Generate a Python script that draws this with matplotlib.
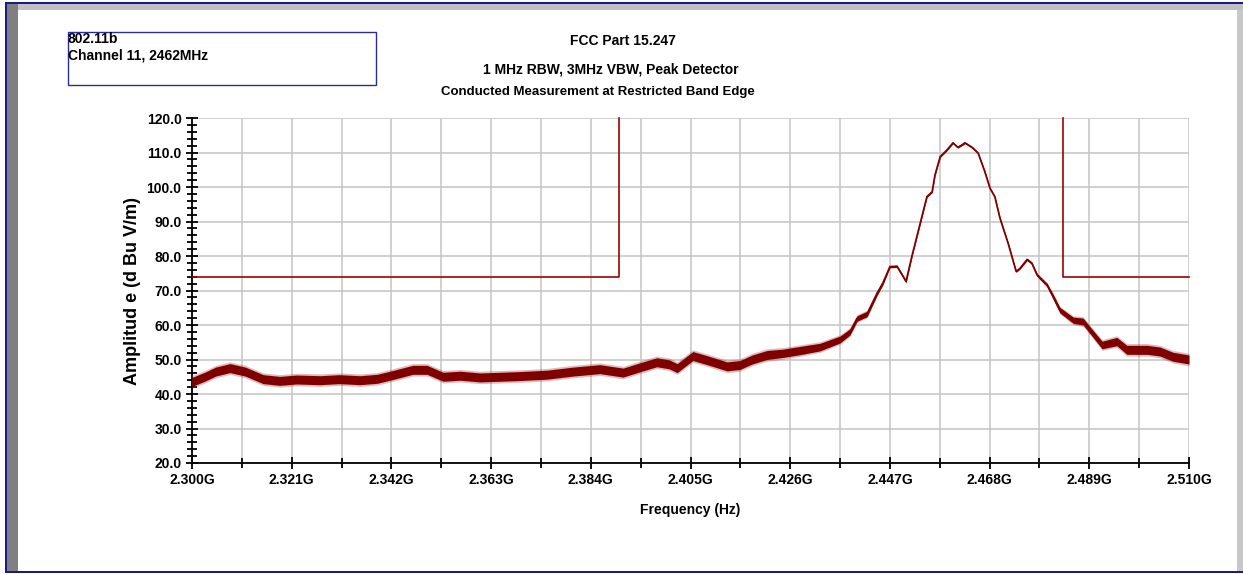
import numpy as np
import matplotlib.pyplot as plt
from matplotlib.patches import Rectangle
from matplotlib.ticker import MultipleLocator

plt.rcParams['font.family'] = ['Liberation Sans', 'DejaVu Sans']

freq_mhz = [2300.0, 2302.7, 2305.0, 2308.0, 2311.2, 2315.0, 2318.5, 2322.0, 2327.0, 2331.0,
            2335.4, 2339.0, 2342.3, 2346.5, 2349.5, 2352.9, 2356.5, 2360.7, 2365.0, 2369.1,
            2374.8, 2380.3, 2385.9, 2390.8, 2394.5, 2397.9, 2400.5, 2402.2, 2405.5, 2408.5,
            2412.7, 2415.4, 2418.0, 2421.1, 2424.5, 2428.1, 2432.3, 2436.5, 2438.6, 2440.1,
            2442.2, 2444.3, 2445.5, 2447.0, 2448.5, 2449.6, 2450.4, 2451.7, 2453.3, 2454.8,
            2455.9, 2456.5, 2457.6, 2459.0, 2460.3, 2461.3, 2462.2, 2462.8, 2464.3, 2465.6,
            2467.0, 2468.1, 2469.1, 2470.2, 2471.9, 2473.6, 2474.4, 2475.9, 2476.9, 2478.0,
            2480.1, 2481.4, 2482.8, 2485.6, 2487.7, 2489.1, 2491.7, 2494.8, 2496.9, 2501.2,
            2503.9, 2506.6, 2510.0]
level_db = [43.5, 45.0, 46.5, 47.5, 46.5, 44.3, 43.8, 44.2, 44.0, 44.3,
            44.0, 44.4, 45.5, 47.0, 47.0, 45.0, 45.3, 44.8, 45.0, 45.2,
            45.6, 46.5, 47.2, 46.2, 47.8, 49.2, 48.6, 47.5, 51.0, 49.8,
            48.0, 48.4, 50.0, 51.3, 51.8, 52.6, 53.6, 55.8, 58.0, 61.9,
            63.2, 69.2, 72.1, 76.9, 77.0, 74.5, 72.6, 80.3, 89.0, 97.2,
            98.6, 103.5, 108.8, 110.7, 112.8, 111.5, 112.2, 112.8, 111.5, 109.8,
            104.4, 99.6, 97.2, 90.9, 83.7, 75.5, 76.4, 79.0, 77.9, 74.5,
            71.6, 68.2, 64.3, 61.4, 61.0, 58.6, 54.2, 55.2, 52.8, 52.8,
            52.3, 50.8, 50.0]
spread_db = [1.3, 1.3, 1.3, 1.3, 1.3, 1.3, 1.3, 1.3, 1.3, 1.3,
             1.3, 1.3, 1.3, 1.3, 1.3, 1.3, 1.3, 1.3, 1.3, 1.3,
             1.3, 1.3, 1.3, 1.3, 1.3, 1.3, 1.3, 1.3, 1.3, 1.3,
             1.3, 1.3, 1.3, 1.3, 1.2, 1.2, 1.1, 1.0, 0.9, 0.8,
             0.8, 0.6, 0.5, 0.3, 0.3, 0.3, 0.3, 0.2, 0.2, 0.2,
             0.2, 0.2, 0.2, 0.2, 0.2, 0.2, 0.2, 0.2, 0.2, 0.2,
             0.2, 0.2, 0.2, 0.2, 0.2, 0.2, 0.2, 0.3, 0.3, 0.4,
             0.5, 0.7, 0.8, 0.9, 1.0, 1.0, 1.1, 1.2, 1.3, 1.3,
             1.3, 1.3, 1.3]

# Restricted band limit: 74 dBuV/m outside 2390 - 2483.5 MHz
limit_freq = [2300.0, 2390.0, 2390.0]
limit_level = [74.0, 74.0, 120.0]
limit2_freq = [2483.5, 2483.5, 2510.0]
limit2_level = [120.0, 74.0, 74.0]

x_ticks = [2300, 2321, 2342, 2363, 2384, 2405, 2426, 2447, 2468, 2489, 2510]
x_minor = [2310.5, 2331.5, 2352.5, 2373.5, 2394.5, 2415.5, 2436.5, 2457.5, 2478.5, 2499.5]

fig = plt.figure(figsize=(12.43, 5.74), dpi=100)

# window frame
W, H = 1243, 574
def px(x, y, w, h, **kw):
    fig.patches.append(Rectangle((x / W, 1 - (y + h) / H), w / W, h / H,
                                 transform=fig.transFigure, **kw))
px(7, 4, 1236, 6, facecolor='#c0c0c0', edgecolor='none')
px(7, 4, 11, 568, facecolor='#808080', edgecolor='none')
px(1237, 10, 6, 562, facecolor='#c8c8c8', edgecolor='none')
px(5, 2, 1238, 2, facecolor='#1a1a8c', edgecolor='none')
px(5, 2, 2, 570, facecolor='#1a1a8c', edgecolor='none')
px(5, 571, 1238, 2, facecolor='#1a1a8c', edgecolor='none')

# info box top left
px(68, 32, 308, 53, facecolor='none', edgecolor='#2b2b9a', linewidth=1.0)
fig.text(68 / W, 1 - 32 / H, '802.11b\nChannel 11, 2462MHz', ha='left', va='top',
         fontsize=10, fontweight='bold', linespacing=1.2)

fig.text(623 / W, 1 - 41 / H, 'FCC Part 15.247', ha='center', va='center',
         fontsize=10, fontweight='bold')
fig.text(611 / W, 1 - 70 / H, '1 MHz RBW, 3MHz VBW, Peak Detector', ha='center',
         va='center', fontsize=10, fontweight='bold')
fig.text(598 / W, 1 - 92 / H, 'Conducted Measurement at Restricted Band Edge',
         ha='center', va='center', fontsize=9.5, fontweight='bold')

ax = fig.add_axes([192 / W, 1 - 463 / H, 997 / W, 345 / H])
ax.set_xlim(2300, 2510)
ax.set_ylim(20, 120)

ax.set_xticks(x_ticks)
ax.set_xticks(x_minor, minor=True)
ax.set_xticklabels([f'{v / 1000:.3f}G' for v in x_ticks])
ax.yaxis.set_major_locator(MultipleLocator(10))
ax.yaxis.set_minor_locator(MultipleLocator(2))
ax.yaxis.set_major_formatter(plt.FuncFormatter(lambda v, p: f'{v:.1f}'))

ax.grid(True, which='major', axis='y', color='#c8c8c8', linewidth=1.2)
ax.grid(True, which='both', axis='x', color='#c8c8c8', linewidth=1.2)
ax.set_axisbelow(True)
for s in ['top', 'right']:
    ax.spines[s].set_visible(False)
for s in ['left', 'bottom']:
    ax.spines[s].set_linewidth(1.3)

ax.tick_params(axis='both', which='major', direction='inout', length=9, width=1.3,
               labelsize=10, pad=3)
ax.tick_params(axis='x', which='minor', direction='inout', length=7, width=1.3)
ax.tick_params(axis='y', which='minor', direction='inout', length=7, width=1.3)
for lab in ax.get_xticklabels() + ax.get_yticklabels():
    lab.set_fontweight('bold')

f = np.array(freq_mhz)
v = np.array(level_db)
s = np.array(spread_db)
ax.fill_between(f, v - 1.4 * s, v + 1.4 * s, color='#a04040', linewidth=0, alpha=0.35, zorder=3)
ax.fill_between(f, v - s, v + s, color='#800000', linewidth=0, zorder=3)
ax.plot(f, v, color='#800000', linewidth=1.3, zorder=4)

ax.plot(limit_freq, limit_level, color='#a00000', linewidth=1.2, zorder=5, clip_on=False)
ax.plot(limit2_freq, limit2_level, color='#a00000', linewidth=1.2, zorder=5, clip_on=False)

ax.set_xlabel('Frequency (Hz)', fontsize=10, fontweight='bold', labelpad=11)
ax.set_ylabel('Amplitud e (d Bu V/m)', fontsize=13, fontweight='bold', labelpad=4)

fig.savefig('out.png', dpi=100)
